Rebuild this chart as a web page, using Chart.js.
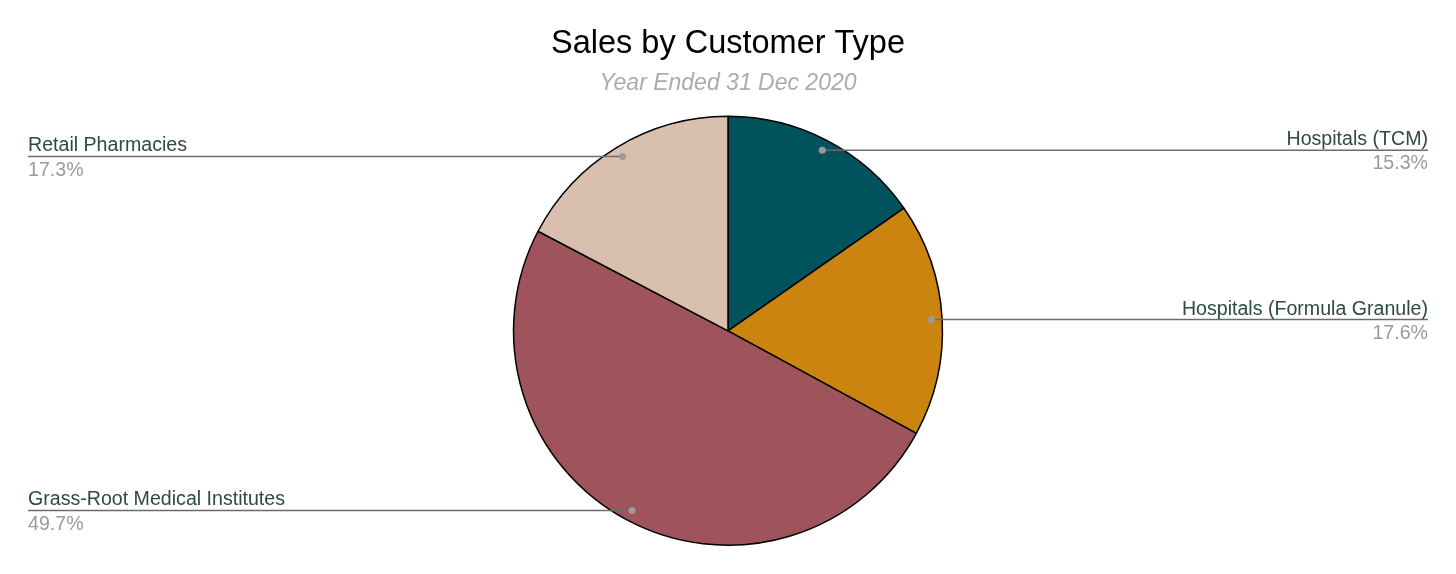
<!DOCTYPE html>
<html>
<head>
<meta charset="utf-8">
<script src="https://cdn.jsdelivr.net/npm/chart.js@4/dist/chart.umd.min.js"></script>
<style>
  html, body { margin: 0; padding: 0; background: #ffffff; }
  #wrap { width: 1456px; height: 574px; position: relative; }
</style>
</head>
<body>
<div id="wrap"><canvas id="salesChart"></canvas></div>
<script>
const categories = ['Hospitals (TCM)', 'Hospitals (Formula Granule)', 'Grass-Root Medical Institutes', 'Retail Pharmacies']
const shares = [15.3, 17.6, 49.7, 17.3]
const sliceColors = ['#00525c', '#cc8410', '#9e545a', '#d9bfad']

const FONT = '"Liberation Sans", Arial, Helvetica, sans-serif'

// leader lines: dot on the slice, line out to the page edge, name above, share below
const sliceLabels = {
    id: 'sliceLabels',
    afterDatasetsDraw: (chart) => {
        const {ctx} = chart
        const meta = chart.getDatasetMeta(0)
        const leftEdge = 28
        const rightEdge = chart.width - 28
        ctx.save()
        meta.data.forEach((arc, i) => {
            const mid = (arc.startAngle + arc.endAngle) / 2
            const r = arc.outerRadius * 0.95
            const px = arc.x + Math.cos(mid) * r
            const py = arc.y + Math.sin(mid) * r
            const onRight = Math.cos(mid) >= 0
            const endX = onRight ? rightEdge : leftEdge

            ctx.strokeStyle = '#6b6b6b'
            ctx.lineWidth = 1.5
            ctx.beginPath()
            ctx.moveTo(px, py)
            ctx.lineTo(endX, py)
            ctx.stroke()

            ctx.fillStyle = '#9a9a9a'
            ctx.beginPath()
            ctx.arc(px, py, 3.5, 0, Math.PI * 2)
            ctx.fill()

            ctx.textAlign = onRight ? 'right' : 'left'
            ctx.font = '19.6px ' + FONT
            ctx.fillStyle = '#2e4a46'
            ctx.textBaseline = 'alphabetic'
            ctx.fillText(categories[i], endX, py - 5)
            ctx.fillStyle = '#9a9a9a'
            ctx.textBaseline = 'top'
            ctx.fillText(shares[i].toFixed(1) + '%', endX, py + 4)
        })
        ctx.restore()
    }
}

new Chart(document.getElementById('salesChart'), {
    type: 'pie',
    data: {
        labels: categories,
        datasets: [{
            data: shares,
            backgroundColor: sliceColors,
            borderColor: '#000000',
            borderWidth: 1.5
        }]
    },
    options: {
        responsive: true,
        maintainAspectRatio: false,
        animation: false,
        layout: {
            padding: { top: 0, bottom: 28, left: 0, right: 0 }
        },
        plugins: {
            legend: { display: false },
            tooltip: { enabled: false },
            title: {
                display: true,
                text: 'Sales by Customer Type',
                color: '#000000',
                font: { family: FONT, size: 32.5, weight: 'normal' },
                padding: { top: 25, bottom: 2 }
            },
            subtitle: {
                display: true,
                text: 'Year Ended 31 Dec 2020',
                color: '#a8adab',
                font: { family: FONT, size: 23, style: 'italic', weight: 'normal' },
                padding: { top: 4, bottom: 18 }
            }
        }
    },
    plugins: [sliceLabels]
})
</script>
</body>
</html>
